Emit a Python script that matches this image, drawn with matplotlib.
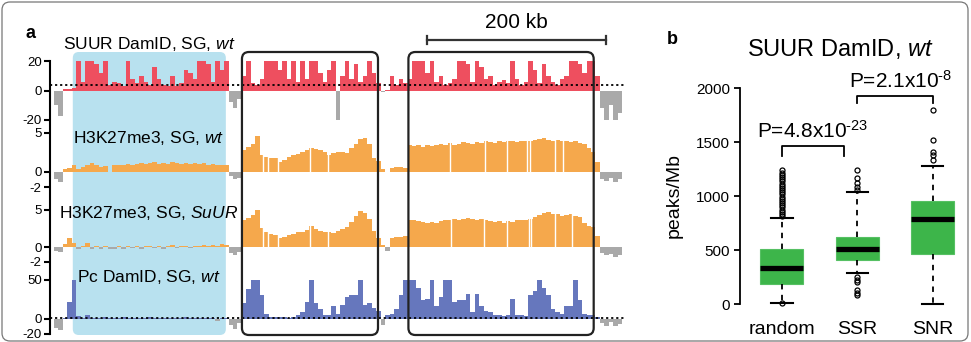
import numpy as np
import matplotlib
matplotlib.use('Agg')
import matplotlib.pyplot as plt
from matplotlib.patches import FancyBboxPatch
from matplotlib.lines import Line2D
from matplotlib.transforms import IdentityTransform

plt.rcParams['font.family'] = ['Liberation Sans', 'DejaVu Sans']
plt.rcParams['mathtext.fontset'] = 'custom'
plt.rcParams['mathtext.rm'] = 'Liberation Sans'
plt.rcParams['mathtext.it'] = 'Liberation Sans:italic'
plt.rcParams['mathtext.default'] = 'regular'

# ---------------- data: panel a (binned signal, 5 kb bins) ----------------
BIN_KB = 5
suur_wt = [-10, -17, 1, 1, 1.5, 20, 6, 20, 20, 18, 12, 20, 4, 6, 5, 3, 20, 8, 5, 10,
           6, 4, 16, 8, 4, 3, 10, 3, 5, 14, 12, 8, 20, 20, 18, 6, 20, 14, 20, -8,
           -12, -6, 10, 20, 5, 4, 8, 20, 20, 20, 14, 20, 8, 20, 6, 20, 8, 20, 20, 12,
           6, 14, 20, -20, 10, 20, 8, 18, 6, 10, 20, 12, 5, -1, 0.5, 10, 4, 8, 5, 8,
           20, 20, 20, 12, 20, 6, 10, 4, 5, 8, 20, 20, 18, 6, 20, 16, 8, 10, 4, 6,
           7, 5, 20, 8, 4, 6, 20, 14, 5, 18, 10, 6, 4, 8, 10, 20, 20, 18, 12, 20,
           20, 10, -12, -20, -10, -20, -15]
h3k27_wt = [-1.0, -1.3, 0.3, 0.5, 0.8, 0.3, 0.6, 0.8, 1.1, 0.8, 0.6, 0.7, 0.0, 0.8, 0.9, 0.8, 1.0, 0.9, 1.0, 1.1,
            1.0, 1.1, 1.2, 1.0, 1.1, 1.0, 1.2, 1.1, 1.0, 1.1, 1.0, 1.1, 1.0, 1.1, 0.9, 1.0, 0.9, 0.9, 0.8, -0.6,
            -1.0, -0.8, 2.8, 3.2, 3.6, 4.6, 2.2, 1.9, 1.8, 1.7, 1.2, 1.5, 1.9, 2.1, 2.3, 2.5, 2.8, 3.0, 2.9, 2.8,
            2.6, 2.2, 2.4, 2.5, 2.6, 2.4, 3.0, 3.6, 4.2, 4.4, 3.6, 1.8, 1.4, 0.3, 0.0, 0.5, 0.6, 0.6, 0.5, 3.4,
            3.3, 3.5, 3.2, 3.4, 3.3, 3.5, 3.6, 3.4, 3.7, 3.5, 3.6, 3.8, 3.7, 3.6, 3.8, 3.7, 3.9, 3.8, 3.7, 3.9,
            3.8, 3.9, 4.0, 3.8, 4.0, 3.9, 4.0, 4.1, 4.2, 4.3, 4.1, 4.0, 4.1, 3.9, 4.0, 3.8, 3.9, 3.7, 3.6, 3.0,
            2.6, 1.2, -1.0, -1.2, -0.8, -1.3, -1.0]
h3k27_suur = [-0.5, -0.7, 0.4, 1.2, 0.6, -0.3, 0.1, 0.5, -0.2, 0.1, -0.3, 0.1, -0.2, -0.3, 0.1, -0.2, 0.2, -0.1, 0.2, -0.2,
              0.1, 0.2, -0.1, 0.2, -0.2, 0.1, 0.3, -0.1, 0.2, 0.1, -0.1, 0.2, 0.1, 0.3, 0.2, 0.3, 0.2, 0.4, 0.3, -0.8,
              -1.1, -0.6, 3.6, 3.9, 4.3, 5.0, 2.6, 2.0, 1.8, 1.7, 1.2, 1.3, 1.6, 1.8, 2.0, 2.1, 2.3, 2.9, 2.4, 2.2,
              2.0, 2.1, 1.9, 2.2, 2.4, 2.7, 3.4, 4.2, 4.9, 4.6, 3.8, 2.2, 1.2, 0.3, -0.5, 1.2, 1.4, 1.3, 1.5, 3.7,
              3.6, 3.5, 3.4, 3.3, 3.4, 3.3, 3.5, 3.6, 3.7, 3.8, 3.7, 3.8, 3.9, 3.8, 3.7, 3.8, 3.6, 3.5, 3.4, 3.5,
              3.3, 3.5, 3.4, 3.6, 3.7, 3.6, 3.8, 4.0, 4.3, 4.6, 4.7, 4.5, 4.4, 4.2, 4.3, 4.4, 4.2, 4.1, 3.2, 2.9,
              2.7, 1.5, -0.8, -1.1, -0.9, -1.3, -1.0]
pc_wt = [-12, -15, 1, 22, 50, 3, 1, 4, 1, 1, 1, 2, 1, 1, 1, 2, 1, 1, 1, 1,
         1, 2, 1, 1, 1, 1, 1, 1, 1, 2, 1, 1, 1, 1, 1, 1, -3, 1, 1, -8,
         -14, -6, 20, 38, 50, 50, 30, 6, 2, 2, 2, 2, 1, 2, 4, 8, 22, 50, 20, 12,
         4, 5, 16, 6, 18, 28, 30, 30, 50, 18, 20, 14, 10, -8, 4, 6, 12, 30, 50, 50,
         50, 40, 24, 26, 50, 16, 28, 50, 50, 22, 24, 24, 32, 8, 32, 16, 10, 8, 4, 4,
         3, 4, 26, 4, 4, 3, 30, 36, 50, 40, 30, 12, 8, 6, 16, 16, 50, 24, 6, 5,
         4, 2, -6, -10, -5, -9, -7]
# positions (kb) of missing-data gaps in the H3K27me3 tracks
gaps_h3k27_wt = [233.5, 239, 250, 286, 306, 442.5, 481.6, 506, 528.5, 532, 560, 568.7]
gaps_h3k27_suur = [233.5, 239, 250, 286, 306, 443.6, 480.5, 506, 530.5, 532.5, 559.8, 578.8]
# annotated regions (kb)
shaded_region_kb = (21, 192)
boxed_regions_kb = [(210, 362), (396, 603)]
scale_bar_kb = (417, 617)
suur_threshold = 4
pc_threshold = 1

# ---------------- data: panel b (box statistics, peaks/Mb) ----------------
groups = ['random', 'SSR', 'SNR']
q1 = [185, 405, 460]
medians = [335, 505, 785]
q3 = [510, 625, 955]
whisker_low = [9, 285, 0]
whisker_high = [800, 1040, 1275]
fliers = [
    [5, 815, 835, 855, 875, 895, 915, 935, 955, 975, 995, 1015, 1035, 1055, 1075,
     1095, 1115, 1135, 1155, 1175, 1195, 1215, 1240],
    [80, 100, 130, 200, 225, 250, 1060, 1085, 1120, 1165, 1240],
    [1330, 1380, 1405, 1515, 1795],
]
pvals = ['P=4.8x10$^{\u201023}$', 'P=2.1x10$^{\u20108}$']

# ---------------- figure ----------------
W, H = 971, 342
fig = plt.figure(figsize=(W / 100, H / 100), dpi=100)

RED, ORANGE, BLUE, GREY = '#EE4F5F', '#F5A84C', '#6677BD', '#A9A9A9'
XL, XR = 50, 626
XMIN, XMAX = -4.47, 639.1

tracks = [
    (suur_wt, RED, (-20, 20), 61, 120, 'SUUR DamID, SG, $\\mathit{wt}$', 44, [], suur_threshold),
    (h3k27_wt, ORANGE, (-2, 5), 133, 187, 'H3K27me3, SG, $\\mathit{wt}$', 138, gaps_h3k27_wt, None),
    (h3k27_suur, ORANGE, (-2, 5), 210, 262, 'H3K27me3, SG, $\\mathit{SuUR}$', 213, gaps_h3k27_suur, None),
    (pc_wt, BLUE, (-20, 50), 280, 334, 'Pc DamID, SG, $\\mathit{wt}$', 277, [], pc_threshold),
]
axes = []
for vals, col, (lo, hi), top, bot, label, ly, gaps, thr in tracks:
    ax = fig.add_axes([XL / W, 1 - bot / H, (XR - XL) / W, (bot - top) / H])
    ax.set_facecolor('none')
    v = np.asarray(vals, dtype=float)
    x = np.arange(len(v)) * BIN_KB
    colors = [col if val >= 0 else GREY for val in v]
    ax.bar(x, v, width=BIN_KB, align='edge', color=colors, linewidth=0, zorder=2)
    if gaps:
        ax.vlines(gaps, 0, hi, colors='white', linewidth=1.0, zorder=3)
    if thr is not None:
        ax.axhline(thr, color='k', linestyle=(0, (1.2, 1.6)), linewidth=1.3, zorder=4)
    ax.set_xlim(XMIN, XMAX)
    ax.set_ylim(lo, hi)
    for s in ax.spines.values():
        s.set_visible(False)
    ax.set_xticks([])
    ax.set_yticks([hi, 0, lo])
    ax.set_yticklabels([str(hi), '0', str(lo)])
    ax.tick_params(axis='y', length=4, width=1.5, labelsize=9.5, pad=2)
    fig.text(149 / W, 1 - ly / H, label, ha='center', va='center', fontsize=12.5, zorder=6)
    axes.append(ax)

# continuous left spine for panel a
fig.add_artist(Line2D([XL / W, XL / W], [1 - 61 / H, 1 - 334 / H], color='k', lw=1.5))

ax1 = axes[0]
def kb2px(kb):
    return ax1.transData.transform((kb, 0))[0]

y_top, y_bot = H - 52, H - 335
x0, x1 = kb2px(shaded_region_kb[0]), kb2px(shaded_region_kb[1])
fig.add_artist(FancyBboxPatch((x0, y_bot), x1 - x0, y_top - y_bot,
                              boxstyle='round,pad=0,rounding_size=6',
                              transform=IdentityTransform(), facecolor='#B8E1EF',
                              edgecolor='none', zorder=-5))
for a, b in boxed_regions_kb:
    x0, x1 = kb2px(a), kb2px(b)
    fig.add_artist(FancyBboxPatch((x0, y_bot), x1 - x0, y_top - y_bot,
                                  boxstyle='round,pad=0,rounding_size=7',
                                  transform=IdentityTransform(), facecolor='none',
                                  edgecolor='#222222', lw=1.6, zorder=8))

# scale bar
sx0, sx1 = kb2px(scale_bar_kb[0]), kb2px(scale_bar_kb[1])
sy = H - 40
fig.add_artist(Line2D([sx0, sx1], [sy, sy], transform=IdentityTransform(), color='#333333', lw=1.6))
for sx in (sx0, sx1):
    fig.add_artist(Line2D([sx, sx], [sy - 4, sy + 4], transform=IdentityTransform(), color='#333333', lw=1.6))
fig.text((sx0 + sx1) / 2 / W, 1 - 22 / H, '200 kb', ha='center', va='center', fontsize=15)

# panel labels
fig.text(30 / W, 1 - 34 / H, 'a', ha='center', va='center', fontsize=13, fontweight='bold')
fig.text(672 / W, 1 - 40 / H, 'b', ha='center', va='center', fontsize=13, fontweight='bold')

# ---------------- panel b ----------------
axb = fig.add_axes([740 / W, 1 - 304 / H, 220 / W, 216 / H])
axb.set_facecolor('none')
stats = []
for i in range(len(groups)):
    stats.append(dict(label=groups[i], q1=q1[i], med=medians[i], q3=q3[i],
                      whislo=whisker_low[i], whishi=whisker_high[i], fliers=fliers[i]))
art = axb.bxp(stats, positions=[1, 2, 3], widths=0.57, patch_artist=True, showfliers=True,
              boxprops=dict(facecolor='#3DB54A', edgecolor='#56C063', linewidth=0.8),
              medianprops=dict(color='k', linewidth=3.8, solid_capstyle='butt'),
              whiskerprops=dict(color='k', linewidth=1.3, linestyle=(0, (3, 3))),
              capprops=dict(color='k', linewidth=1.5),
              flierprops=dict(marker='o', markersize=3.6, markerfacecolor='none',
                              markeredgecolor='k', markeredgewidth=0.9),
              capwidths=0.28)
for k, lst in art.items():
    for a in lst:
        a.set_clip_on(False)
axb.set_xlim(0.444, 3.36)
axb.set_ylim(0, 2000)
for s in ['top', 'right', 'bottom']:
    axb.spines[s].set_visible(False)
axb.spines['left'].set_linewidth(1.3)
axb.set_yticks([0, 500, 1000, 1500, 2000])
axb.tick_params(axis='y', length=4, width=1.3, labelsize=11, pad=3)
axb.set_xticks([1, 2, 3])
axb.set_xticklabels(groups, fontsize=14)
axb.tick_params(axis='x', length=0, pad=12)
axb.set_ylabel('peaks/Mb', fontsize=14)
axb.yaxis.set_label_coords(-0.26, 0.5)

axb.plot([1, 1, 1.82, 1.82], [1370, 1463, 1463, 1370], color='k', lw=1.3, clip_on=False)
axb.text(1.41, 1537, pvals[0], ha='center', va='baseline', fontsize=15)
axb.plot([2, 2, 3, 3], [1861, 1926, 1926, 1861], color='k', lw=1.3, clip_on=False)
axb.text(2.57, 2000, pvals[1], ha='center', va='baseline', fontsize=15, clip_on=False)

fig.text(840 / W, 1 - 49 / H, 'SUUR DamID, $\\mathit{wt}$', ha='center', va='center', fontsize=17)

# outer frame
fig.add_artist(FancyBboxPatch((2, 1), W - 5, H - 3, boxstyle='round,pad=0,rounding_size=8',
                              transform=IdentityTransform(), facecolor='none',
                              edgecolor='#777777', lw=0.9, zorder=9))

fig.savefig('out.png', dpi=100)
